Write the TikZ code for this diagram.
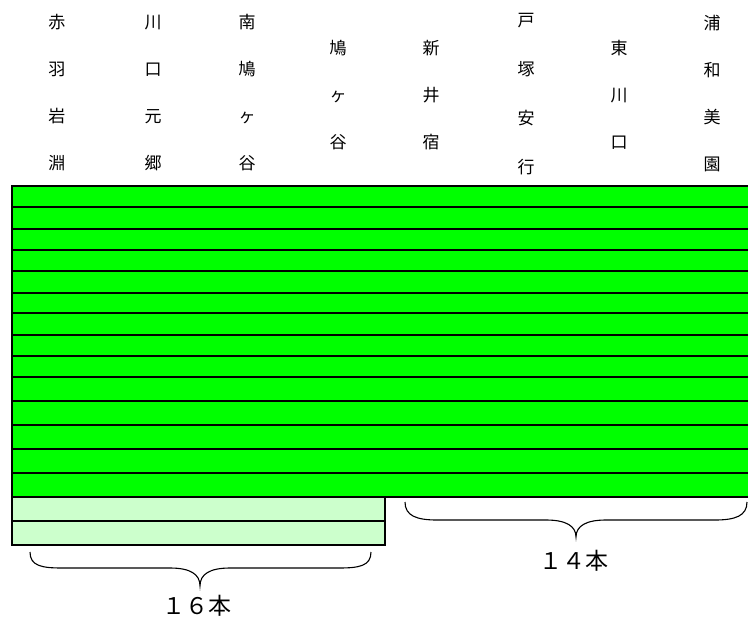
\documentclass[tikz,border=0pt]{standalone}
\usepackage{fontspec}
\newfontfamily\jp{Noto Sans CJK JP}
\definecolor{stripe}{RGB}{0,255,0}
\definecolor{pale}{RGB}{204,255,204}
\begin{document}
\begin{tikzpicture}[x=1pt,y=-1pt,
  col/.style={align=center, inner sep=0pt,
    font=\jp\fontsize{17}{47}\selectfont},
  colwide/.style={col, font=\jp\fontsize{17}{49}\selectfont},
  cnt/.style={inner sep=0pt, font=\jp\fontsize{23}{28}\selectfont},
  bar/.style={line width=2.2pt, black},
  bracepath/.style={line width=1.1pt, black}]
\useasboundingbox (0,0) rectangle (748,619);
% station names
\node[col] (s1) at (57,93) {赤\\羽\\岩\\淵};
\node[col] (s2) at (153,93) {川\\口\\元\\郷};
\node[col] (s3) at (247,93) {南\\鳩\\ヶ\\谷};
\node[col] (s4) at (338,95) {鳩\\ヶ\\谷};
\node[col] (s5) at (431,95) {新\\井\\宿};
\node[colwide] (s6) at (526,94) {戸\\塚\\安\\行};
\node[col] (s7) at (619,95) {東\\川\\口};
\node[col] (s8) at (712,94) {浦\\和\\美\\園};
% stripes
\fill[stripe] (12,186) rectangle (748,497);
\fill[pale] (12,497) rectangle (385,545);
\foreach \yy in {207,229,250,271,293,313,335,356,377,401,425,449,473,497}
  \draw[bar] (12,\yy) -- (748,\yy);
\draw[bar] (12,521) -- (385,521);
\draw[bar, line cap=rect] (748,186) -- (12,186) -- (12,545) -- (385,545) -- (385,497);
% braces
\coordinate (la) at (30,552);
\coordinate (lb) at (371,552);
\coordinate (lt) at (200,586);
\draw[bracepath] (la) .. controls (30,566) and (42,568) .. (62,568) -- (170,568)
  .. controls (190,568) and (200,574) .. (lt)
  .. controls (200,574) and (210,568) .. (230,568) -- (339,568)
  .. controls (359,568) and (371,566) .. (lb);
\coordinate (ra) at (405,502);
\coordinate (rb) at (747,502);
\coordinate (rt) at (576,537);
\draw[bracepath] (ra) .. controls (405,516) and (417,520) .. (437,520) -- (546,520)
  .. controls (566,520) and (576,526) .. (rt)
  .. controls (576,526) and (586,520) .. (606,520) -- (715,520)
  .. controls (735,520) and (747,516) .. (rb);
\node[cnt] (n16) at (197,606) {１６本};
\node[cnt] (n14) at (574,561) {１４本};
\end{tikzpicture}
\end{document}
